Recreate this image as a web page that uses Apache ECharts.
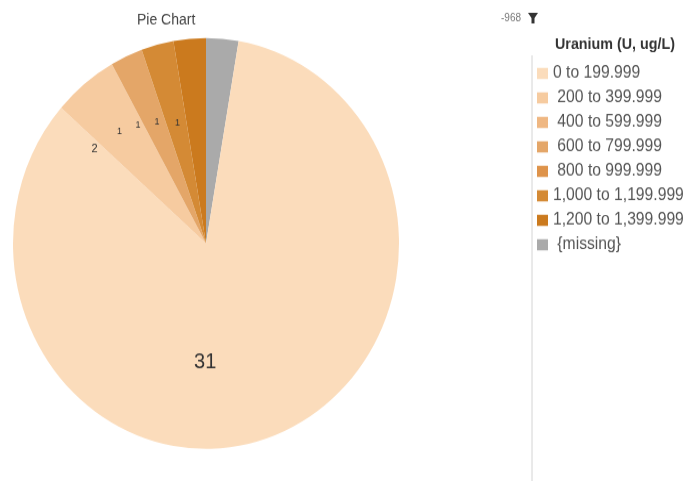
<!DOCTYPE html>
<html><head><meta charset="utf-8">
<style>html,body{margin:0;padding:0;background:#fff;width:691px;height:481px;overflow:visible}
#c{width:691px;height:452px;transform:scaleY(1.0642);transform-origin:0 0}</style>
<script src="https://cdn.jsdelivr.net/npm/echarts@6/dist/echarts.min.js"></script>
</head><body><div id="c"></div>
<script>
const categories=['0 to 199.999','200 to 399.999','400 to 599.999','600 to 799.999','800 to 999.999','1,000 to 1,199.999','1,200 to 1,399.999','{missing}'];
const counts=[31,2,0,1,0,1,1,1];
const colors=['#fbdcbb','#f6cba0','#efb782','#e4a668','#de934a','#d48a35','#cb7a1e','#aaaaaa'];
const sliceLabels=['31','2','','1','','1','1','1'];
const labelFont=[20,11,9,9,9,9,9,9];
const labelNudge=[[-34,18],[-49,-11],[0,0],[-27,-21],[0,0],[-24,-18],[-20,-14],[-95,-6]];
const legendIndent=[0,1,1,1,1,0,0,1];
const chart=echarts.init(document.getElementById('c'),null,{renderer:'canvas'});
const order=[7,0,1,2,3,4,5,6]; // clockwise from 12 o'clock
chart.setOption({
 animation:false,
 color:colors,
 title:{text:'Pie Chart',left:137,top:12,padding:0,textStyle:{fontFamily:'Liberation Sans',fontSize:14,fontWeight:'normal',color:'#444'}},
 legend:{orient:'vertical',left:537,top:61,padding:0,itemWidth:11,itemHeight:10.5,itemGap:7,selectedMode:false,
  data:categories,icon:'rect',
  formatter:n=>(legendIndent[categories.indexOf(n)]?' ':'')+n,
  textStyle:{fontFamily:'Liberation Sans',fontSize:15.7,color:'#555'}},
 series:[{type:'pie',center:[206,228.8],radius:[0,193],startAngle:90,clockwise:true,
  minShowLabelAngle:0.1,avoidLabelOverlap:false,labelLine:{show:false},
  itemStyle:{borderWidth:0},
  emphasis:{disabled:true},
  data:order.map(i=>({
   name:categories[i],value:counts[i],itemStyle:{color:colors[i]},
   label:{show:!!sliceLabels[i],formatter:sliceLabels[i],position:'inside',
    fontFamily:'Liberation Sans',fontSize:labelFont[i],color:'#333',
    offset:labelNudge[i]}
  }))}],
 graphic:[
  {type:'text',left:555,top:35,style:{text:'Uranium (U, ug/L)',fontFamily:'Liberation Sans',fontSize:14.3,fontWeight:'bold',fill:'#333'}},
  {type:'text',left:501,top:12,style:{text:'-968',fontFamily:'Liberation Sans',fontSize:10,fill:'#777'}},
  {type:'polygon',shape:{points:[[528,12],[538,12],[534.5,17],[534.5,22],[531.5,22],[531.5,17]]},style:{fill:'#333'}},
  {type:'line',shape:{x1:532,y1:52,x2:532,y2:452},style:{stroke:'#d4d4d4',lineWidth:1}}
 ]
});
</script></body></html>
